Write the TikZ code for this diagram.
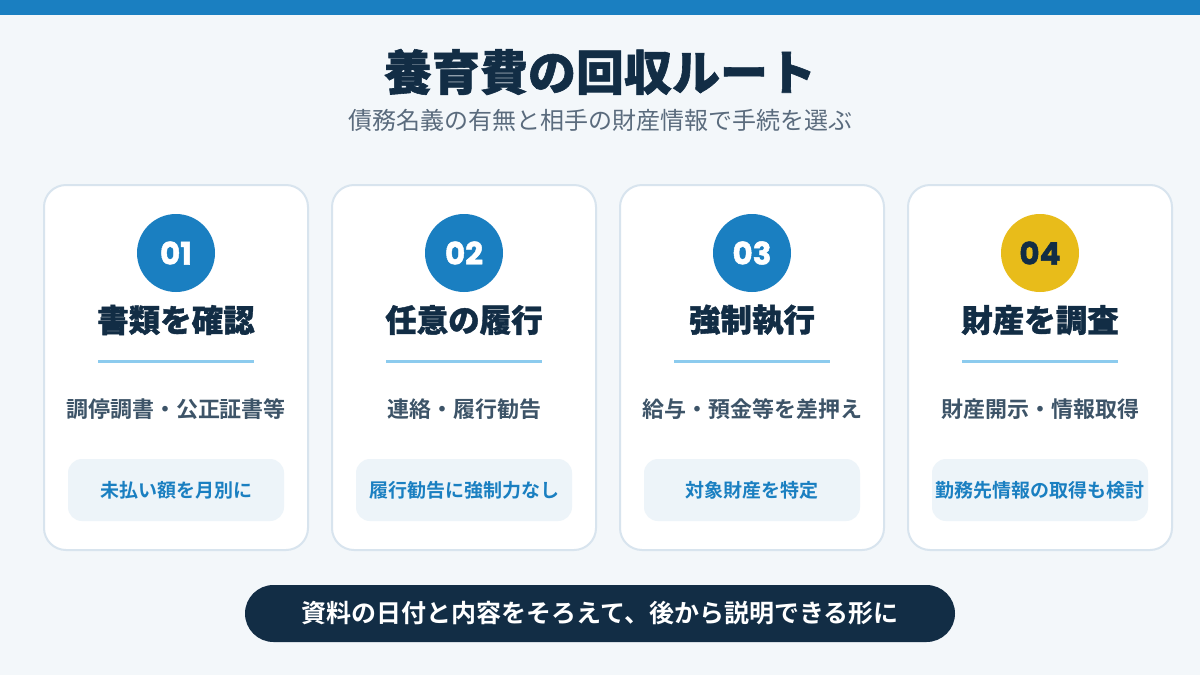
\documentclass[tikz,border=0pt]{standalone}
\usepackage{fontspec}
\setmainfont{Noto Sans CJK JP}
\newfontfamily\cjk{Noto Sans CJK JP}
\newfontfamily\cjkblack{Noto Sans CJK JP Black}[FakeBold=1.2]
\newfontfamily\cjkbold{Noto Sans CJK JP Bold}
\newfontfamily\numfont{Poppins Bold}[FakeBold=1.5]
\definecolor{bg}{HTML}{F3F7FA}
\definecolor{topbar}{HTML}{1A7FC1}
\definecolor{navy}{HTML}{122D45}
\definecolor{subgray}{HTML}{5A6B7D}
\definecolor{descgray}{HTML}{3D5468}
\definecolor{cardline}{HTML}{D8E4EE}
\definecolor{divider}{HTML}{8CCBEE}
\definecolor{notefill}{HTML}{EDF4F9}
\definecolor{badgeblue}{HTML}{1A7FC1}
\definecolor{badgeyellow}{HTML}{E8BC1A}
\tikzset{
  card/.style={draw=cardline, line width=2pt, fill=white, rounded corners=22pt},
  badge/.style={circle, minimum size=78pt, inner sep=0pt, font=\numfont\fontsize{31}{31}\selectfont},
  cardtitle/.style={text=navy, inner sep=0pt, font=\cjkblack\fontsize{31.5}{35}\selectfont},
  desc/.style={text=descgray, inner sep=0pt, font=\cjkbold\fontsize{22}{26}\selectfont},
  note/.style={fill=notefill, rounded corners=14pt, minimum width=216pt, minimum height=62pt, inner sep=0pt, text=badgeblue, font=\cjkbold\fontsize{19}{23}\selectfont},
}
\begin{document}
\begin{tikzpicture}[x=1pt,y=-1pt]
\fill[bg] (0,0) rectangle (1200,675);
\useasboundingbox (0,0) rectangle (1200,675);
\fill[topbar] (0,0) rectangle (1200,15);
\node[text=navy, inner sep=0pt, font=\cjkblack\fontsize{48}{52}\selectfont] (title) at (600,72) {養育費の回収ルート};
\node[text=subgray, inner sep=0pt, font=\cjk\fontsize{24}{28}\selectfont] (subtitle) at (600,120) {債務名義の有無と相手の財産情報で手続を選ぶ};
\foreach \i/\bc/\tc/\ttl/\dsc/\nt in {
  1/badgeblue/white/書類を確認/調停調書・公正証書等/未払い額を月別に,
  2/badgeblue/white/任意の履行/連絡・履行勧告/履行勧告に強制力なし,
  3/badgeblue/white/強制執行/給与・預金等を差押え/対象財産を特定,
  4/badgeyellow/navy/財産を調査/財産開示・情報取得/勤務先情報の取得も検討}{
  \pgfmathsetmacro{\cx}{176+288*(\i-1)}
  \draw[card] (\cx-132,185) rectangle (\cx+132,550);
  \node[badge, fill=\bc, text=\tc] (badge\i) at (\cx,253) {0\i};
  \node[cardtitle] (ttl\i) at (\cx,320) {\ttl};
  \draw[divider, line width=3pt] (\cx-78,361) -- (\cx+78,361);
  \node[desc] (desc\i) at (\cx,409) {\dsc};
  \node[note] (note\i) at (\cx,490) {\nt};
}
\node[fill=navy, rounded corners=28.5pt, minimum width=710pt, minimum height=57pt, inner sep=0pt, text=white, font=\cjkbold\fontsize{25}{29}\selectfont] (footer) at (600,613.5) {資料の日付と内容をそろえて、後から説明できる形に};
\end{tikzpicture}
\end{document}
